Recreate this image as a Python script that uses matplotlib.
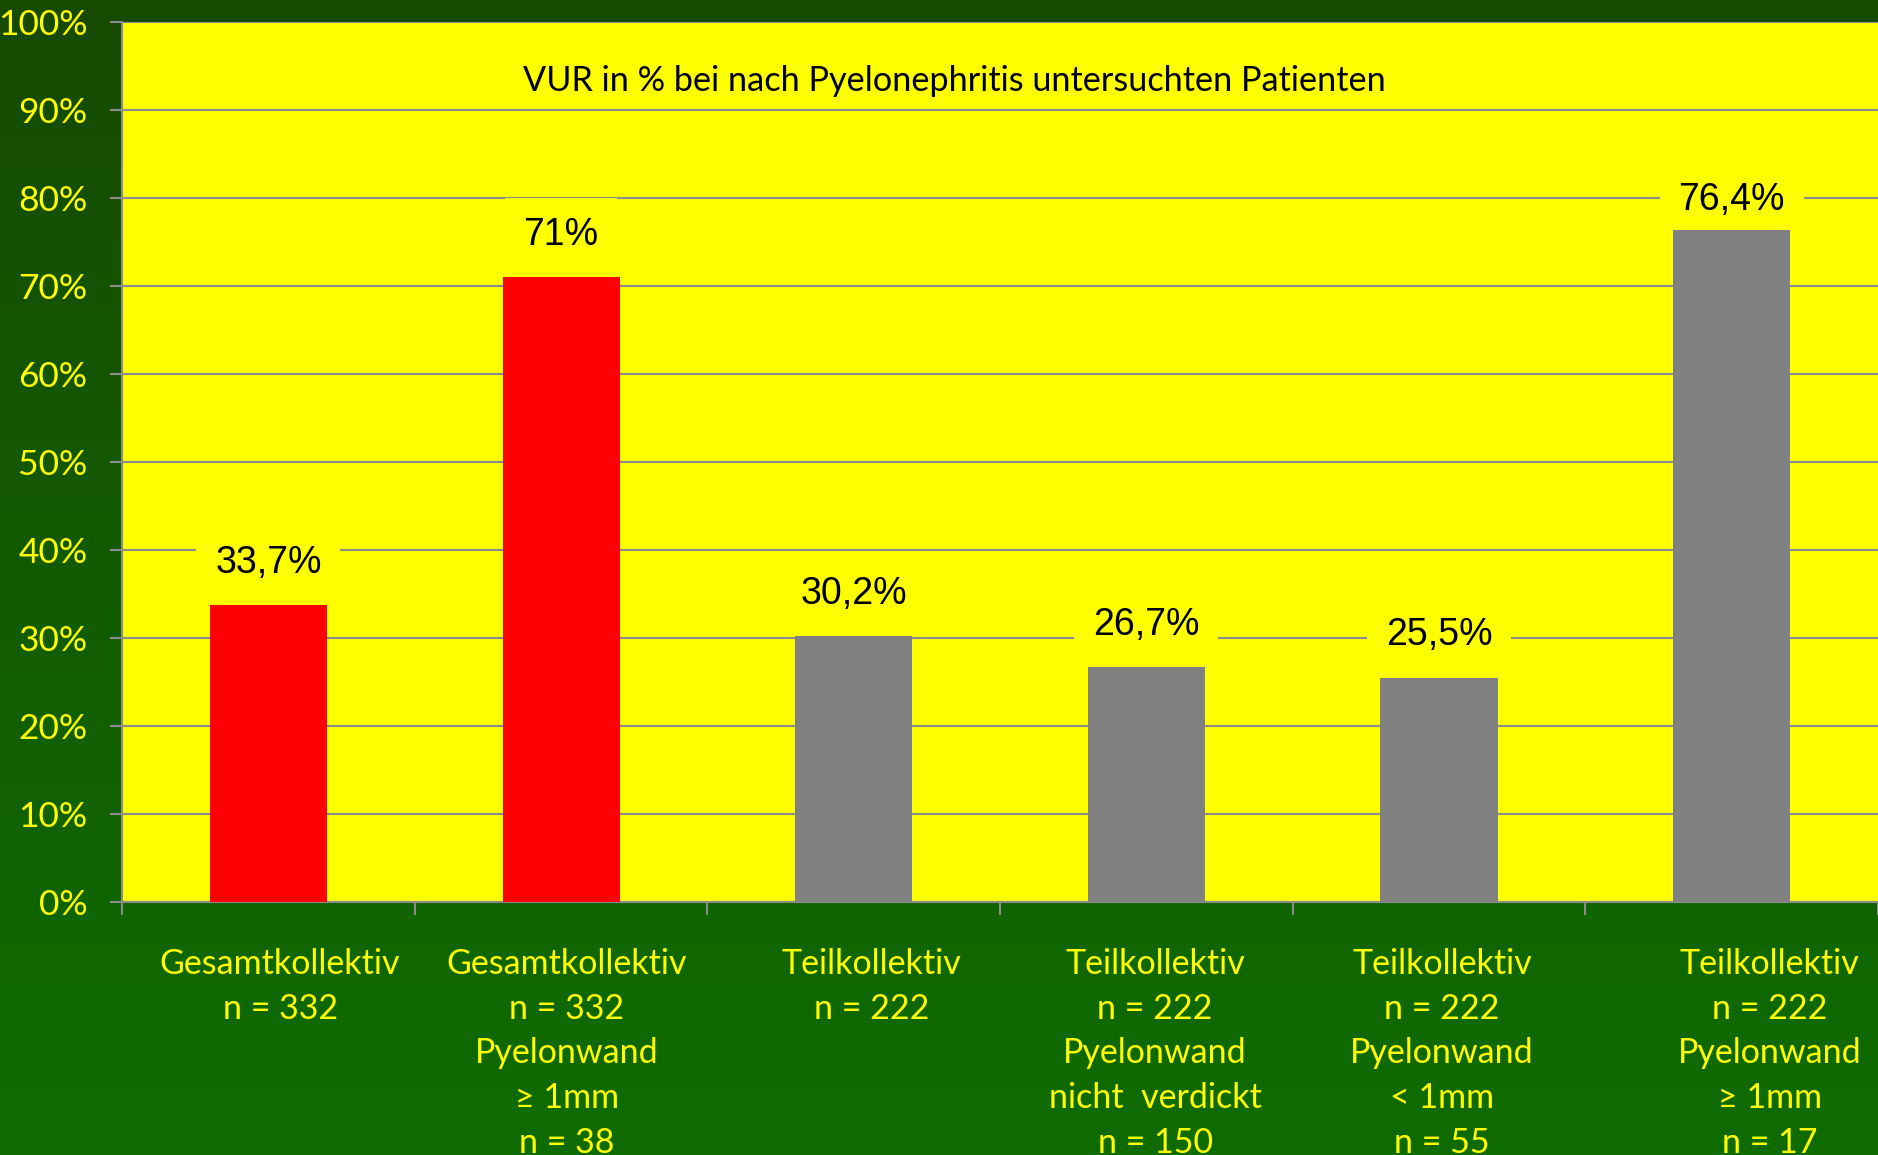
import numpy as np
import matplotlib
matplotlib.use('Agg')
import matplotlib.pyplot as plt
from matplotlib.colors import LinearSegmentedColormap

# data
categories = [
    ['Gesamtkollektiv', 'n = 332'],
    ['Gesamtkollektiv', 'n = 332', 'Pyelonwand', '≥ 1mm', 'n = 38'],
    ['Teilkollektiv', 'n = 222'],
    ['Teilkollektiv', 'n = 222', 'Pyelonwand', 'nicht  verdickt', 'n = 150'],
    ['Teilkollektiv', 'n = 222', 'Pyelonwand', '< 1mm', 'n = 55'],
    ['Teilkollektiv', 'n = 222', 'Pyelonwand', '≥ 1mm', 'n = 17'],
]
values = [33.7, 71.0, 30.2, 26.7, 25.5, 76.4]
value_labels = ['33,7%', '71%', '30,2%', '26,7%', '25,5%', '76,4%']
bar_colors = ['#ff0000', '#ff0000', '#808080', '#808080', '#808080', '#808080']
yticks = list(range(0, 101, 10))
title = 'VUR in % bei nach Pyelonephritis untersuchten Patienten'

# labels under the axis are not quite centred on the slide
label_nudge = [0.04, 0.02, 0.06, 0.03, 0.01, 0.13]

calibri_like = ['Lato', 'DejaVu Sans']
arial_like = ['Liberation Sans', 'DejaVu Sans']
yellow = '#ffff00'
grid_gray = '#8c8c8c'

fig = plt.figure(figsize=(18.78, 11.55), dpi=100)

# green gradient background
bg = fig.add_axes([0, 0, 1, 1], zorder=-10)
grad = np.linspace(0, 1, 256).reshape(-1, 1)
cmap = LinearSegmentedColormap.from_list('bg', ['#164a00', '#0f6c00'])
bg.imshow(grad, aspect='auto', cmap=cmap, extent=[0, 1, 0, 1], origin='upper')
bg.axis('off')

ax = fig.add_axes([0.065, 0.219, 0.935, 0.762])
ax.set_facecolor(yellow)
x = np.arange(len(values))
ax.bar(x, values, width=0.4, color=bar_colors, zorder=5)

ax.set_xlim(-0.5, len(values) - 0.5)
ax.set_ylim(0, 100)
ax.set_yticks(yticks)
ax.set_yticklabels([f'{v}%' for v in yticks])
ax.set_xticks(np.arange(-0.5, len(values), 1.0))
ax.set_xticklabels([])

ax.yaxis.grid(True, color=grid_gray, lw=1.5)
ax.set_axisbelow(True)
ax.tick_params(axis='y', direction='out', length=9, width=1.5, color=grid_gray,
               labelcolor=yellow, labelsize=25.5, pad=16)
ax.tick_params(axis='x', direction='out', length=9, width=1.5, color=grid_gray)
for lab in ax.get_yticklabels():
    lab.set_family(calibri_like)
for s in ['top', 'right']:
    ax.spines[s].set_visible(False)
for s in ['left', 'bottom']:
    ax.spines[s].set_color(grid_gray)
    ax.spines[s].set_linewidth(1.5)

# value labels with a yellow box that cuts the gridlines
for xi, v, lab in zip(x, values, value_labels):
    ax.text(xi, min(v + 4.8, 79.8), lab, ha='center', va='center', fontsize=27,
            family=arial_like, color='black', zorder=4,
            bbox=dict(boxstyle='square,pad=0.5', fc=yellow, ec='none'))

ax.text(0.474, 0.933, title, transform=ax.transAxes, ha='center', va='center',
        fontsize=24.7, family=calibri_like, color='black')

# category labels below the axis
for xi, lines, nud in zip(x, categories, label_nudge):
    for j, line in enumerate(lines):
        ax.annotate(line, xy=(xi + nud, 0), xycoords=('data', 'axes fraction'),
                    xytext=(0, -44.5 - j * 32.2), textcoords='offset points',
                    ha='center', va='center', fontsize=24.5, family=calibri_like,
                    color=yellow, annotation_clip=False)

fig.savefig('out.png', dpi=100)
